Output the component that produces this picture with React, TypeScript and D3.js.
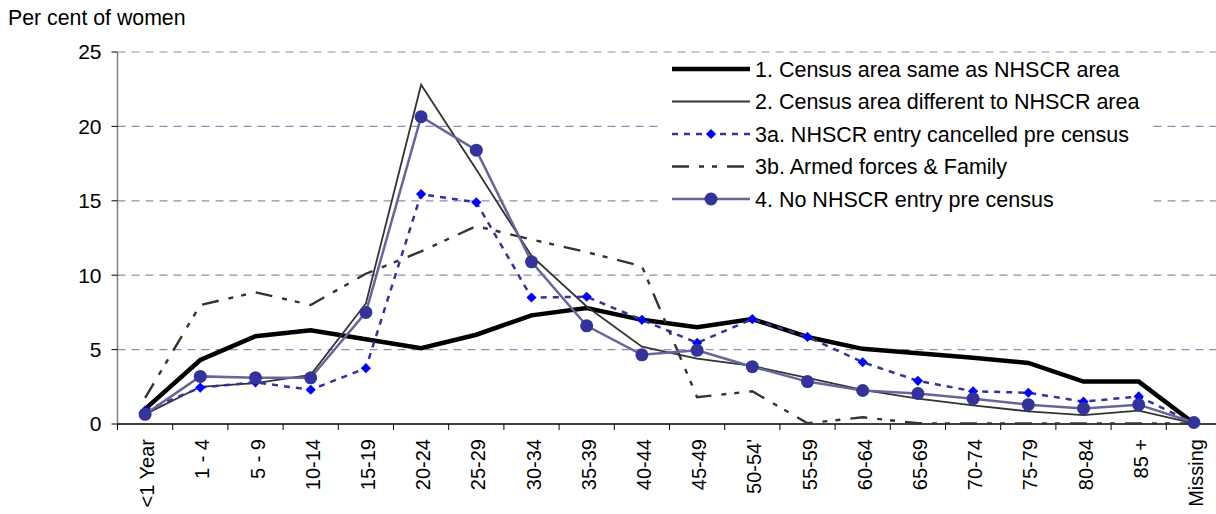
import React from 'react';
import * as d3 from 'd3';

const categories = ['<1 Year', '1 - 4', '5 - 9', '10-14', '15-19', '20-24', '25-29', '30-34', '35-39', '40-44',
  '45-49', "50-54'", '55-59', '60-64', '65-69', '70-74', '75-79', '80-84', '85 +', 'Missing'];

const sameArea = [1.0, 4.3, 5.9, 6.3, 5.7, 5.1, 6.0, 7.3, 7.8, 7.0, 6.5, 7.05, 5.85, 5.05, 4.75, 4.45, 4.1, 2.85, 2.85, 0.05];
const differentArea = [0.65, 2.5, 2.75, 3.3, 8.1, 22.8, 17.1, 11.3, 7.9, 5.2, 4.4, 3.9, 3.1, 2.3, 1.7, 1.25, 0.85, 0.6, 0.9, 0.05];
const cancelledPre = [0.9, 2.45, 2.8, 2.3, 3.75, 15.45, 14.9, 8.5, 8.55, 7.0, 5.45, 7.05, 5.85, 4.15, 2.9, 2.2, 2.1, 1.5, 1.85, 0.05];
const armedForces = [1.75, 8.0, 8.85, 8.0, 10.1, 11.6, 13.3, 12.4, 11.55, 10.6, 1.8, 2.2, 0.05, 0.45, 0.05, 0.03, 0.03, 0.03, 0.03, 0.03];
const noEntry = [0.65, 3.2, 3.1, 3.1, 7.5, 20.65, 18.4, 10.9, 6.6, 4.65, 4.95, 3.85, 2.85, 2.25, 2.05, 1.7, 1.3, 1.05, 1.3, 0.1];

const yTicks = [0, 5, 10, 15, 20, 25];

const legendLabels = [
  '1. Census area same as NHSCR area',
  '2. Census area different to NHSCR area',
  '3a. NHSCR entry cancelled pre census',
  '3b. Armed forces & Family',
  '4. No NHSCR entry pre census',
];

const FONT = 'Arial, "Liberation Sans", sans-serif';

const App = () => {
  const width = 1216;
  const height = 514;
  const left = 117.5;
  const step = 55.2;

  const x = d3.scaleBand().domain(categories).range([left, left + step * categories.length]);
  const y = d3.scaleLinear().domain([0, 25]).range([424, 52]);
  const cx = (c: string) => (x(c) as number) + x.bandwidth() / 2;

  const line = d3
    .line<number>()
    .x((d, i) => cx(categories[i]))
    .y(d => y(d));

  const series = [
    { data: sameArea, stroke: '#000000', width: 4.5, dash: null },
    { data: differentArea, stroke: '#333333', width: 1.8, dash: null },
    { data: cancelledPre, stroke: '#333399', width: 2.5, dash: '6,6' },
    { data: armedForces, stroke: '#333333', width: 2.4, dash: '17,10,5,8,5,10' },
    { data: noEntry, stroke: '#666699', width: 2.5, dash: null },
  ];

  // diamond = square turned 45 degrees
  const diamond = d3.symbol().type(d3.symbolSquare).size(52);

  // legend
  const lgX = 672;
  const lgY0 = 69;
  const lgStep = 32.5;

  return (
    <svg width={width} height={height} style={{ position: 'absolute', left: 0, top: 0 }} fontFamily={FONT}>
      <rect width={width} height={height} fill="#fff" />
      <text x={8} y={25} fontSize={21.3} fill="#000">Per cent of women</text>

      {/* gridlines */}
      {yTicks.filter(t => t > 0).map(t => (
        <line key={t} x1={left} x2={1216} y1={y(t)} y2={y(t)} stroke="#8e8eb6" strokeWidth={1.2} strokeDasharray="8,6" />
      ))}

      {/* y axis */}
      <line x1={left} x2={left} y1={y(25)} y2={y(0)} stroke="#808080" strokeWidth={1.5} />
      {yTicks.map(t => (
        <g key={t}>
          <line x1={left - 6} x2={left} y1={y(t)} y2={y(t)} stroke="#000" strokeWidth={1} />
          <text x={left - 16} y={y(t)} dy="0.35em" textAnchor="end" fontSize={21} fill="#000">{t}</text>
        </g>
      ))}

      {/* x axis */}
      <line x1={left} x2={1216} y1={y(0)} y2={y(0)} stroke="#000" strokeWidth={1.5} />
      {categories.map(c => (
        <line key={c} x1={x(c)} x2={x(c)} y1={y(0)} y2={y(0) + 6} stroke="#000" strokeWidth={1} />
      ))}
      {categories.map(c => (
        <text key={c} transform={`translate(${cx(c) + 2},${y(0) + 15}) rotate(-90)`} textAnchor="end" dy="0.35em" fontSize={20} fill="#000">
          {c}
        </text>
      ))}

      {/* series */}
      {series.map((s, i) => (
        <path key={i} d={line(s.data) as string} fill="none" stroke={s.stroke} strokeWidth={s.width}
          strokeDasharray={s.dash || undefined} strokeLinejoin="miter" />
      ))}
      {cancelledPre.map((v, i) => (
        <path key={i} d={diamond() as string} transform={`translate(${cx(categories[i])},${y(v)}) rotate(45)`} fill="#0000ff" />
      ))}
      {noEntry.map((v, i) => (
        <circle key={i} cx={cx(categories[i])} cy={y(v)} r={6.5} fill="#333399" />
      ))}

      {/* legend */}
      <rect x={658} y={56} width={493} height={158} fill="#fff" />
      {legendLabels.map((label, i) => {
        const s = series[i];
        const ly = lgY0 + i * lgStep;
        return (
          <g key={label}>
            <line x1={lgX} x2={lgX + 78} y1={ly} y2={ly} stroke={s.stroke} strokeWidth={s.width}
              strokeDasharray={s.dash || undefined} />
            {i === 2 && <path d={diamond() as string} transform={`translate(${lgX + 39},${ly}) rotate(45)`} fill="#0000ff" />}
            {i === 4 && <circle cx={lgX + 39} cy={ly} r={6.5} fill="#333399" />}
            <text x={lgX + 83} y={ly} dy="0.35em" fontSize={21.5} fill="#000">{label}</text>
          </g>
        );
      })}
    </svg>
  );
};

export default App;
